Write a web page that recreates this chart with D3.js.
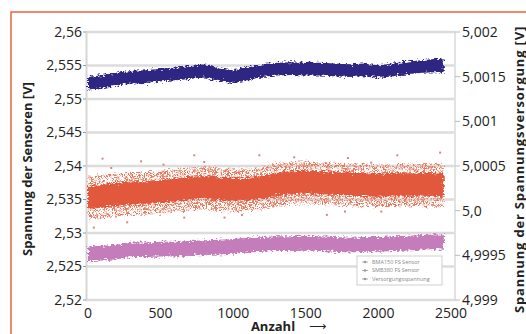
<!DOCTYPE html>
<html>
<head>
<meta charset="utf-8">
<script src="https://cdn.jsdelivr.net/npm/d3@7"></script>
<style>
  body { margin: 0; background: #fff; }
  svg { display: block; font-family: "Open Sans", "Noto Sans", sans-serif; }
</style>
</head>
<body>
<div id="chart"></div>
<script>
const idx = [0, 100, 200, 300, 400, 500, 600, 700, 800, 900, 1000, 1100, 1200,
             1300, 1400, 1500, 1600, 1700, 1800, 1900, 2000, 2100, 2200, 2300, 2400, 2450]

// navy series (top band)
const navyHi = [2.5533, 2.5536, 2.5539, 2.5542, 2.5543, 2.5545, 2.5547, 2.5549, 2.5552, 2.5546,
                2.5543, 2.5547, 2.5552, 2.5554, 2.5555, 2.5554, 2.5554, 2.5553, 2.5552, 2.5553,
                2.5550, 2.5553, 2.5556, 2.5558, 2.5560, 2.5559]
const navyLo = [2.5514, 2.5516, 2.5520, 2.5523, 2.5524, 2.5526, 2.5528, 2.5530, 2.5532, 2.5527,
                2.5524, 2.5528, 2.5533, 2.5535, 2.5536, 2.5535, 2.5535, 2.5534, 2.5533, 2.5534,
                2.5531, 2.5534, 2.5537, 2.5539, 2.5540, 2.5539]

// orange series: dense core and lighter spread
const orangeHi = [2.5370, 2.5372, 2.5375, 2.5377, 2.5377, 2.5379, 2.5381, 2.5384, 2.5385, 2.5383,
                  2.5382, 2.5382, 2.5385, 2.5390, 2.5392, 2.5393, 2.5392, 2.5391, 2.5390, 2.5389,
                  2.5388, 2.5389, 2.5389, 2.5390, 2.5389, 2.5388]
const orangeLo = [2.5336, 2.5338, 2.5341, 2.5343, 2.5343, 2.5345, 2.5347, 2.5350, 2.5351, 2.5349,
                  2.5348, 2.5348, 2.5351, 2.5356, 2.5358, 2.5359, 2.5358, 2.5357, 2.5356, 2.5355,
                  2.5354, 2.5355, 2.5355, 2.5356, 2.5355, 2.5354]
const orangeOutHi = [2.5384, 2.5387, 2.5389, 2.5391, 2.5391, 2.5393, 2.5395, 2.5398, 2.5399, 2.5397,
                     2.5396, 2.5396, 2.5399, 2.5404, 2.5406, 2.5407, 2.5406, 2.5405, 2.5404, 2.5403,
                     2.5402, 2.5403, 2.5403, 2.5404, 2.5403, 2.5402]
const orangeOutLo = [2.5320, 2.5322, 2.5325, 2.5327, 2.5327, 2.5329, 2.5331, 2.5334, 2.5335, 2.5333,
                     2.5332, 2.5332, 2.5335, 2.5340, 2.5342, 2.5343, 2.5342, 2.5341, 2.5340, 2.5339,
                     2.5338, 2.5339, 2.5339, 2.5340, 2.5339, 2.5338]
// single outliers of the orange series [Anzahl, V]
const orangeDots = [[40, 2.5308], [100, 2.5411], [160, 2.5397], [270, 2.5316], [366, 2.5407],
                    [663, 2.5323], [732, 2.5416], [800, 2.5406], [940, 2.5323], [1060, 2.5327],
                    [1180, 2.5416], [1420, 2.5413], [1645, 2.5327], [1770, 2.5332], [1790, 2.5412],
                    [2020, 2.5332], [2130, 2.5416], [2425, 2.5420], [520, 2.5402], [1950, 2.5405]]

// pink series (bottom band)
const pinkHi = [2.5280, 2.5281, 2.5283, 2.5286, 2.5286, 2.5287, 2.5287, 2.5288, 2.5289, 2.5290,
                2.5291, 2.5293, 2.5294, 2.5295, 2.5295, 2.5296, 2.5295, 2.5294, 2.5293, 2.5294,
                2.5294, 2.5295, 2.5296, 2.5297, 2.5298, 2.5297]
const pinkLo = [2.5258, 2.5259, 2.5261, 2.5264, 2.5264, 2.5265, 2.5265, 2.5266, 2.5267, 2.5268,
                2.5269, 2.5271, 2.5272, 2.5273, 2.5273, 2.5274, 2.5273, 2.5272, 2.5271, 2.5272,
                2.5272, 2.5273, 2.5274, 2.5275, 2.5276, 2.5275]

const xTicks = [0, 500, 1000, 1500, 2000, 2500]
const leftTicks = [2.52, 2.525, 2.53, 2.535, 2.54, 2.545, 2.55, 2.555, 2.56]
const leftLabels = ["2,52", "2,525", "2,53", "2,535", "2,54", "2,545", "2,55", "2,555", "2,56"]
const rightTicks = [4.999, 4.9995, 5.0, 5.0005, 5.001, 5.0015, 5.002]
const rightLabels = ["4,999", "4,9995", "5,0", "5,0005", "5,001", "5,0015", "5,002"]
const legendNames = ["BMA150 FS Sensor", "SMB380 FS Sensor", "Versorgungsspannung"]

const W = 526, H = 334

const svg = d3.select("#chart").append("svg")
    .attr("width", W)
    .attr("height", H)

const x = d3.scaleLinear().domain([0, 2500]).range([88, 451])
const yL = d3.scaleLinear().domain([2.52, 2.56]).range([300, 32])
const yR = d3.scaleLinear().domain([4.999, 5.002]).range([300, 32])

const defs = svg.append("defs")

// rough edges for the noisy bands
const f = defs.append("filter").attr("id", "rough")
    .attr("filterUnits", "userSpaceOnUse")
    .attr("x", 60).attr("y", 20).attr("width", 420).attr("height", 300)
f.append("feTurbulence").attr("type", "fractalNoise")
    .attr("baseFrequency", "0.35 0.6").attr("numOctaves", 2).attr("seed", 3).attr("result", "n")
f.append("feDisplacementMap").attr("in", "SourceGraphic").attr("in2", "n")
    .attr("scale", 7).attr("xChannelSelector", "R").attr("yChannelSelector", "G")

// speckled spread (thin out the halo into dots)
const s = defs.append("filter").attr("id", "speck")
    .attr("filterUnits", "userSpaceOnUse")
    .attr("x", 60).attr("y", 20).attr("width", 420).attr("height", 300)
s.append("feTurbulence").attr("type", "fractalNoise")
    .attr("baseFrequency", "0.9").attr("numOctaves", 1).attr("seed", 7).attr("result", "n")
s.append("feColorMatrix").attr("in", "n").attr("type", "matrix")
    .attr("values", "0 0 0 0 0  0 0 0 0 0  0 0 0 0 0  7 0 0 0 -3.2").attr("result", "m")
s.append("feComposite").attr("in", "SourceGraphic").attr("in2", "m")
    .attr("operator", "in").attr("result", "sp")
s.append("feTurbulence").attr("type", "fractalNoise")
    .attr("baseFrequency", "0.35 0.6").attr("numOctaves", 2).attr("seed", 5).attr("result", "n2")
s.append("feDisplacementMap").attr("in", "sp").attr("in2", "n2")
    .attr("scale", 8).attr("xChannelSelector", "R").attr("yChannelSelector", "G")

// orange frame
svg.append("path")
    .attr("d", `M11,${H} L11,12 L${W},12`)
    .attr("fill", "none")
    .attr("stroke", "#e8643f")
    .attr("stroke-width", 1.5)

// grid
svg.append("g").selectAll("line")
    .data(leftTicks)
    .join("line")
    .attr("x1", 86).attr("x2", 455)
    .attr("y1", d => yL(d)).attr("y2", d => yL(d))
    .attr("stroke", "#dcdcdc")
    .attr("stroke-width", 2.5)

svg.append("line").attr("x1", 86.5).attr("x2", 86.5).attr("y1", 31).attr("y2", 301)
    .attr("stroke", "#d6d6d6").attr("stroke-width", 2)
svg.append("line").attr("x1", 455).attr("x2", 455).attr("y1", 31).attr("y2", 301)
    .attr("stroke", "#e2e2e2").attr("stroke-width", 2)

// small ticks
svg.append("g").selectAll("line")
    .data(leftTicks)
    .join("line")
    .attr("x1", 83).attr("x2", 86)
    .attr("y1", d => yL(d)).attr("y2", d => yL(d))
    .attr("stroke", "#999")
svg.append("g").selectAll("line")
    .data(rightTicks)
    .join("line")
    .attr("x1", 455).attr("x2", 460)
    .attr("y1", d => yR(d)).attr("y2", d => yR(d))
    .attr("stroke", "#bbb")

// bands
function band(hi, lo) {
    return d3.area()
        .x((d, i) => x(idx[i]))
        .y0((d, i) => yL(lo[i]))
        .y1((d, i) => yL(hi[i]))(hi)
}

svg.append("path").attr("d", band(orangeOutHi, orangeOutLo))
    .attr("fill", "#e57a5e").attr("filter", "url(#speck)")

const plot = svg.append("g").attr("filter", "url(#rough)")
plot.append("path").attr("d", band(orangeHi, orangeLo))
    .attr("fill", "#e2583c")
plot.append("path").attr("d", band(pinkHi, pinkLo))
    .attr("fill", "#c47bba")
plot.append("path").attr("d", band(navyHi, navyLo))
    .attr("fill", "#2f2682")

svg.append("g").selectAll("rect")
    .data(orangeDots)
    .join("rect")
    .attr("x", d => x(d[0]) - 1)
    .attr("y", d => yL(d[1]) - 1)
    .attr("width", 2).attr("height", 2)
    .attr("fill", "#c98f7c")

// tick labels
svg.append("g").selectAll("text")
    .data(leftTicks)
    .join("text")
    .attr("x", 82)
    .attr("y", d => yL(d))
    .attr("dy", "0.35em")
    .attr("text-anchor", "end")
    .attr("font-size", 14)
    .attr("fill", "#222")
    .text((d, i) => leftLabels[i])

svg.append("g").selectAll("text")
    .data(rightTicks)
    .join("text")
    .attr("x", 462)
    .attr("y", d => yR(d))
    .attr("dy", "0.35em")
    .attr("font-size", 14)
    .attr("fill", "#222")
    .text((d, i) => rightLabels[i])

svg.append("g").selectAll("text")
    .data(xTicks)
    .join("text")
    .attr("x", d => x(d))
    .attr("y", 318)
    .attr("text-anchor", "middle")
    .attr("font-size", 14)
    .attr("fill", "#222")
    .text(d => d)

// axis titles
svg.append("text")
    .attr("transform", "translate(32,169) rotate(-90)")
    .attr("text-anchor", "middle")
    .attr("font-size", 13)
    .attr("font-weight", "bold")
    .attr("fill", "#222")
    .text("Spannung der Sensoren [V]")

svg.append("text")
    .attr("transform", "translate(524,26) rotate(-90)")
    .attr("text-anchor", "end")
    .attr("font-size", 13)
    .attr("font-weight", "bold")
    .attr("letter-spacing", 0.8)
    .attr("fill", "#222")
    .text("Spannung der Spannungsversorgung [V]")

svg.append("text")
    .attr("x", 273)
    .attr("y", 331)
    .attr("text-anchor", "middle")
    .attr("font-size", 13)
    .attr("font-weight", "bold")
    .attr("fill", "#222")
    .text("Anzahl")

svg.append("text")
    .attr("x", 309)
    .attr("y", 330)
    .attr("font-family", "DejaVu Sans")
    .attr("font-size", 12)
    .attr("fill", "#222")
    .text("\u27F6")

// legend
const lg = svg.append("g").attr("transform", "translate(357,256)")
lg.append("rect")
    .attr("width", 85).attr("height", 29)
    .attr("fill", "#fff")
    .attr("stroke", "#cfcfcf")
lg.selectAll("g.item")
    .data(legendNames)
    .join("g")
    .attr("class", "item")
    .attr("transform", (d, i) => `translate(0,${6 + i * 8.5})`)
    .each(function (d) {
        const g = d3.select(this)
        g.append("line").attr("x1", 5).attr("x2", 11).attr("y1", 0).attr("y2", 0)
            .attr("stroke", "#aaa")
        g.append("circle").attr("cx", 8).attr("cy", 0).attr("r", 1.2).attr("fill", "#999")
        g.append("text").attr("x", 15).attr("y", 0).attr("dy", "0.35em")
            .attr("font-size", 5.5).attr("fill", "#888").text(d)
    })
</script>
</body>
</html>
